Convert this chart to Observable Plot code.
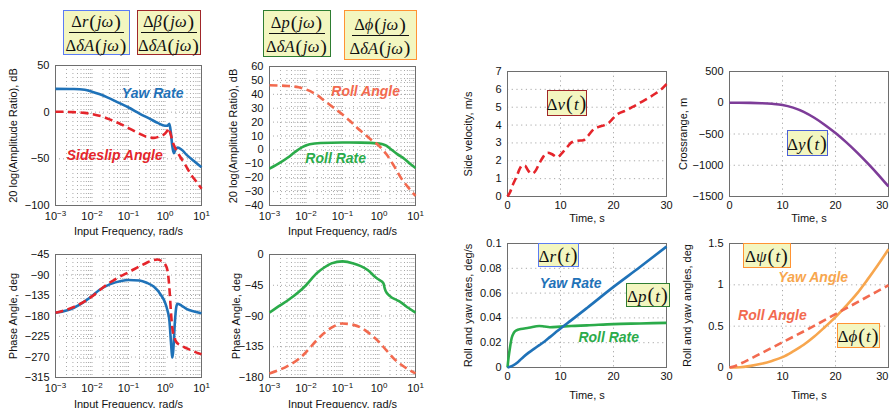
<!DOCTYPE html>
<html><head><meta charset="utf-8">
<script src="https://cdn.jsdelivr.net/npm/d3@7"></script>
<script src="https://cdn.jsdelivr.net/npm/@observablehq/plot@0.6"></script>
<style>
html,body{margin:0;padding:0;background:#fff;overflow:hidden;}
#fig{position:relative;width:889px;height:408px;overflow:hidden;background:#fff;}
.box{position:absolute;box-sizing:border-box;background:#f3f6c0;border:1.5px solid;display:flex;align-items:center;justify-content:center;font-family:"Liberation Serif","Times New Roman",serif;color:#111;white-space:nowrap;}
.frac{display:flex;flex-direction:column;align-items:center;font-size:16.5px;line-height:1.05;}
.frac .num{border-bottom:1px solid #111;padding:0 2px 1px;}
.frac .den{padding:1px 2px 0;}
.p{font-size:1.2em;font-style:normal;margin:0 1px;position:relative;top:0.04em;}
.inl{font-size:17px;}
</style></head><body><div id="fig"></div>
<script>
// ---------- data ----------
// Panel 1: yaw rate / sideslip amplitude (dB) vs frequency (rad/s)
const yawMagW   = [0.001,0.0032,0.0063,0.01,0.0158,0.0316,0.063,0.1,0.2,0.4,0.63,1.0,1.17,1.32,1.45,1.58,1.74,1.95,2.24,2.82,3.98,6.31,10];
const yawMagDb  = [25,24.8,24,22,19.5,14.5,8.8,5,-1.5,-7.5,-11.5,-14.5,-14.5,-12.5,-22,-36,-44,-40,-38,-40,-46,-52.5,-59];
const sideMagW  = [0.001,0.0032,0.0063,0.01,0.02,0.0316,0.063,0.1,0.2,0.316,0.5,0.71,1.0,1.17,1.26,1.41,1.7,2.0,2.63,3.55,5.0,7.08,10];
const sideMagDb = [0.5,0,-0.8,-2,-5,-8,-13,-17,-23,-26.5,-27.5,-26,-23,-19.5,-17,-23,-34,-40,-48,-56,-66,-74,-82];
// Panel 2: phase (deg)
const yawPhW    = [0.001,0.002,0.0032,0.0063,0.01,0.0158,0.0316,0.063,0.1,0.2,0.316,0.5,0.79,1.0,1.17,1.32,1.45,1.55,1.6,1.7,1.86,2.04,2.19,2.82,3.98,6.31,10];
const yawPhDeg  = [-173,-168,-162,-148,-136,-123,-110,-103,-101,-102,-107,-116,-135,-150,-168,-190,-235,-265,-271,-250,-195,-160,-153,-157,-165,-170,-174];
const sidePhW   = [0.001,0.0032,0.01,0.0158,0.0316,0.063,0.1,0.2,0.316,0.5,0.63,0.79,1.0,1.17,1.26,1.35,1.45,1.58,1.78,2.0,2.51,3.98,6.31,10];
const sidePhDeg = [-173,-160,-137,-124,-106,-92,-84,-71,-63,-57,-56,-59,-66,-80,-100,-130,-170,-205,-226,-236,-243,-251,-258,-264];
// Panel 3: roll rate / roll angle amplitude (dB)
const rollAngMagW  = [0.001,0.0032,0.0063,0.01,0.02,0.0316,0.056,0.1,0.158,0.25,0.4,0.63,1.0,1.58,2.51,3.98,6.31,10];
const rollAngMagDb = [46.5,46,45,43.5,39.5,35.5,30.5,25.5,21,16,11.5,7,3,-3,-11,-20,-27,-33];
const rollRateMagW  = [0.001,0.002,0.0032,0.005,0.0079,0.0126,0.025,0.1,0.316,1.0,1.26,1.58,2.0,3.16,5.0,7.08,10];
const rollRateMagDb = [-13.5,-9,-5.5,-1.5,2,4,5,5.3,5.2,4.5,4,3,1,-3,-6.5,-10,-13];
// Panel 4: phase (deg)
const rollRatePhW   = [0.001,0.002,0.0032,0.0063,0.01,0.02,0.0316,0.05,0.1,0.2,0.316,0.5,0.79,1.0,1.32,1.41,1.51,2.0,3.16,3.98,6.31,10];
const rollRatePhDeg = [-85,-74,-67,-55,-45,-27,-19,-13,-10,-13,-17,-23,-33,-37,-42,-48,-53,-61,-67,-70,-78,-85];
const rollAngPhW    = [0.001,0.0032,0.0063,0.01,0.02,0.0316,0.05,0.1,0.2,0.316,0.5,1.0,1.58,2.51,3.98,6.31,10];
const rollAngPhDeg  = [-174,-163,-153,-143,-125,-115,-107,-101,-103,-107,-114,-128,-140,-152,-161,-168,-174];
// Panel 5: side velocity (m/s) vs time (s)
const sideVelT = [0,0.5,1,1.7,2.3,2.8,3.3,3.9,4.6,5.2,6,6.8,7.6,8.5,9.4,10.2,11.2,12.2,13.2,14.3,15.2,16.2,17.2,18.3,19.2,20,21,22.2,23.5,25,26.5,28,29,30];
const sideVelV = [0,0.25,0.65,1.1,1.55,1.75,1.72,1.45,1.28,1.4,1.85,2.25,2.45,2.35,2.2,2.4,2.75,3.05,3.12,3.15,3.4,3.75,3.9,4.0,4.15,4.4,4.65,4.8,5.0,5.25,5.5,5.78,6.0,6.3];
// Panel 6: crossrange (m)
const crossT = [0,4,6,8,10,12,14,16,18,20,22,24,26,28,30];
const crossY = [0,-2,-7,-17,-35,-78,-145,-240,-355,-485,-630,-790,-962,-1145,-1340];
// Panel 7: yaw / roll rates (deg/s)
const yawRateT = [0,1,2,3,4,5,6,7,8,9,10,12,15,20,25,30];
const yawRateV = [0,0.0015,0.0045,0.0085,0.012,0.015,0.018,0.021,0.0245,0.028,0.0315,0.038,0.048,0.065,0.081,0.0975];
const rollRateT = [0,0.2,0.5,0.8,1.2,1.7,2.5,4,6,7,8,10,12,15,20,25,30];
const rollRateV = [0,0.008,0.017,0.024,0.028,0.030,0.031,0.032,0.0335,0.033,0.0325,0.033,0.0335,0.034,0.035,0.0355,0.036];
// Panel 8: yaw / roll angles (deg)
const yawAngT = [0,2,4,6,8,10,12,14,16,18,20,22,24,26,28,30];
const yawAngV = [0,0.003,0.02,0.045,0.08,0.125,0.195,0.275,0.375,0.49,0.61,0.745,0.89,1.06,1.24,1.43];
const rollAngT = [0,1,2,3,5,10,15,20,25,30];
const rollAngV = [0,0.015,0.045,0.075,0.14,0.305,0.47,0.645,0.82,0.995];
// ticks
const freqTicks = [0.001,0.01,0.1,1,10];
const timeTicks = [0,10,20,30];
const p1Ticks = [-100,-50,0,50];
const p2Ticks = [-315,-270,-225,-180,-135,-90,-45];
const p3Ticks = [-40,-30,-20,-10,0,10,20,30,40,50,60];
const p4Ticks = [-180,-135,-90,-45,0];
const p5Ticks = [0,1,2,3,4,5,6,7];
const p6Ticks = [-1500,-1000,-500,0,500];
const p7Ticks = [0,0.02,0.04,0.06,0.08,0.1];
const p8Ticks = [0,0.5,1,1.5];

// ---------- styles ----------
const C = {blue:"#1f72b8", red:"#e5252b", green:"#2bab4a", salmon:"#f26a4f", purple:"#7d3c98", orange:"#f7a64e"};
const zip = (xs, ys) => xs.map((x,i)=>({x, y: ys[i]}));
const minorFreq = freqTicks.slice(0,-1).flatMap(d => [1,2,3,4,5,6,7,8,9].map(m => m*d)).concat([freqTicks[freqTicks.length-1]]);
const numFmt = d => (d < 0 ? "\u2212" : "") + String(+Math.abs(d).toFixed(2));
const expFmt = d => { const e = Math.round(Math.log10(d)); return "10^" + (e < 0 ? "\u2212" : "") + Math.abs(e); };
const fig = document.getElementById("fig");

function line(xs, ys, color, dashed) {
  return Plot.line(zip(xs, ys), {x:"x", y:"y", stroke: color, strokeWidth: 2.6, curve:"monotone-x",
    strokeDasharray: dashed ? "8,4.5" : null, strokeLinecap: "butt"});
}
function label(t, x, y, color) {
  return Plot.text([{t, x, y}], {x:"x", y:"y", text:"t", fill: color, fontSize: 14, fontWeight:"bold", fontStyle:"italic", fontFamily:"Liberation Sans, Arial, sans-serif"});
}
function fixTicks(svg, edge) {
  const texts = [...svg.querySelectorAll('[aria-label="x-axis tick label"] text')];
  texts.forEach(t => {
    const m = t.textContent.match(/^10\^(.+)$/); if (!m) return;
    t.textContent = "10";
    const ts = document.createElementNS("http://www.w3.org/2000/svg","tspan");
    ts.setAttribute("dy","-0.5em"); ts.setAttribute("font-size","8"); ts.textContent = m[1];
    t.appendChild(ts);
  });
  if (edge && texts.length) {
    const last = texts[texts.length-1];
    last.setAttribute("text-anchor","end");
    last.setAttribute("dx","0");
    last.setAttribute("transform", (last.getAttribute("transform")||"") + " translate(0,0)");
    last.setAttribute("x", String(+(last.getAttribute("x")||0) + 0));
    last.style.textAnchor = "end";
  }
}
function panel(o) {
  const [x0,y0,x1,y1] = o.frame, mT = 8, mR = 14;
  const log = o.log;
  const gs = {stroke:"#a8a8a8", strokeWidth:1, strokeDasharray: log ? "1,3" : "1.2,3.5"};
  const grid = log
    ? [Plot.ruleX(minorFreq, gs), Plot.ruleY(o.yTicks, gs)]
    : [Plot.ruleX(timeTicks.slice(1,-1), gs), Plot.ruleY(o.yTicks.slice(1,-1), gs)];
  const svg = Plot.plot({
    width: (x1-x0)+o.mL+mR, height: (y1-y0)+mT+o.mB,
    marginLeft:o.mL, marginRight:mR, marginTop:mT, marginBottom:o.mB,
    style:{fontFamily:"Liberation Sans, Arial, Helvetica, sans-serif", fontSize:"11px", background:"transparent", overflow:"visible", color:"#111"},
    x: log ? {type:"log", domain:[0.001,10]} : {domain:[0,30]},
    y: {domain: o.yDomain},
    marks: [
      ...grid,
      Plot.frame({stroke:"#6e6e6e", strokeWidth:1}),
      Plot.axisX({ticks: log ? freqTicks : timeTicks, tickFormat: log ? expFmt : numFmt, tickSize:0, tickPadding: log ? 7 : 5,
        label: o.xLabel, labelAnchor:"center", labelOffset:o.xOff, labelArrow:false}),
      Plot.axisY({ticks: o.yTicks, tickFormat: numFmt, tickSize:0, tickPadding:6,
        label: o.yLabel, labelAnchor:"center", labelOffset:o.yOff, labelArrow:false}),
      ...o.marks
    ]
  });
  svg.style.position = "absolute";
  svg.style.left = (x0 - o.mL) + "px";
  svg.style.top = (y0 - mT) + "px";
  fixTicks(svg, o.edge);
  fig.appendChild(svg);
}
function box(x0,y0,x1,y1,color,html) {
  const d = document.createElement("div");
  d.className = "box";
  Object.assign(d.style, {left:x0+"px", top:y0+"px", width:(x1-x0)+"px", height:(y1-y0)+"px", borderColor:color});
  d.innerHTML = html; fig.appendChild(d);
}
const P = s => `<span class="p">${s}</span>`;
const frac = (num) => `<div class="frac"><div class="num">Δ<i>${num}</i>${P("(")}<i>jω</i>${P(")")}</div><div class="den">Δ<i>δA</i>${P("(")}<i>jω</i>${P(")")}</div></div>`;
const inl = (v) => `<span class="inl">Δ<i>${v}</i>${P("(")}<i>t</i>${P(")")}</span>`;

// ---------- panels ----------
const magLabel = "20 log(Amplitude Ratio), dB", freqLabel = "Input Frequency, rad/s";
panel({frame:[55,65,201,205], mL:55, mB:35, log:true, yDomain:[-100,50], yTicks:p1Ticks,
  xLabel:freqLabel, xOff:29, yLabel:magLabel, yOff:46,
  marks:[line(yawMagW, yawMagDb, C.blue), line(sideMagW, sideMagDb, C.red, true),
         label("Yaw Rate", 0.46, 20, C.blue), label("Sideslip Angle", 0.042, -46.5, C.red)]});
panel({frame:[55,254,201,377], mL:55, mB:31, log:true, yDomain:[-315,-45], yTicks:p2Ticks,
  xLabel:freqLabel, xOff:30, yLabel:"Phase Angle, deg", yOff:46,
  marks:[line(yawPhW, yawPhDeg, C.blue), line(sidePhW, sidePhDeg, C.red, true)]});
panel({frame:[269,66,415,205], mL:50, mB:35, log:true, yDomain:[-40,60], yTicks:p3Ticks,
  xLabel:freqLabel, xOff:29, yLabel:magLabel, yOff:40,
  marks:[line(rollRateMagW, rollRateMagDb, C.green), line(rollAngMagW, rollAngMagDb, C.salmon, true),
         label("Roll Angle", 0.43, 42, C.salmon), label("Roll Rate", 0.065, -6.2, C.green)]});
panel({frame:[269,254,415,377], mL:50, mB:31, log:true, yDomain:[-180,0], yTicks:p4Ticks,
  xLabel:freqLabel, xOff:30, yLabel:"Phase Angle, deg", yOff:37,
  marks:[line(rollRatePhW, rollRatePhDeg, C.green), line(rollAngPhW, rollAngPhDeg, C.salmon, true)]});
panel({frame:[507,71,666,196], mL:52, mB:32, log:false, yDomain:[0,7], yTicks:p5Ticks,
  xLabel:"Time, s", xOff:25, yLabel:"Side velocity, m/s", yOff:43,
  marks:[line(sideVelT, sideVelV, C.red, true)]});
panel({frame:[729,71,888,196], mL:56, mB:32, log:false, yDomain:[-1500,500], yTicks:p6Ticks, edge:true,
  xLabel:"Time, s", xOff:25, yLabel:"Crossrange, m", yOff:50,
  marks:[line(crossT, crossY, C.purple)]});
panel({frame:[507,243,666,367], mL:52, mB:41, log:false, yDomain:[0,0.1], yTicks:p7Ticks,
  xLabel:"Time, s", xOff:31, yLabel:"Roll and yaw rates, deg/s", yOff:43,
  marks:[line(rollRateT, rollRateV, C.green), line(yawRateT, yawRateV, C.blue),
         label("Yaw Rate", 11.9, 0.0677, C.blue), label("Roll Rate", 19.1, 0.0242, C.green)]});
panel({frame:[729,243,888,367], mL:56, mB:41, log:false, yDomain:[0,1.5], yTicks:p8Ticks, edge:true,
  xLabel:"Time, s", xOff:31, yLabel:"Roll and yaw angles, deg", yOff:46,
  marks:[line(yawAngT, yawAngV, C.orange), line(rollAngT, rollAngV, C.salmon, true),
         label("Yaw Angle", 15.8, 1.09, C.orange), label("Roll Angle", 8.1, 0.63, C.salmon)]});

// ---------- math boxes ----------
box(63,10,130,55,"#5b7cf5", frac("r"));
box(137,10,201,55,"#a0262a", frac("β"));
box(263,10,331,57,"#2e7d32", frac("p"));
box(344,10,417,60,"#ff9333", frac("ϕ"));
box(547,90,587,116,"#a0262a", inl("v"));
box(787,130,828,156,"#4a5fd8", inl("y"));
box(538,243,579,267,"#5b7cf5", inl("r"));
box(626,283,670,307,"#2e7d32", inl("p"));
box(743,243,791,268,"#ff9333", inl("ψ"));
box(837,323,880,348,"#ff9333", inl("ϕ"));
</script></body></html>
